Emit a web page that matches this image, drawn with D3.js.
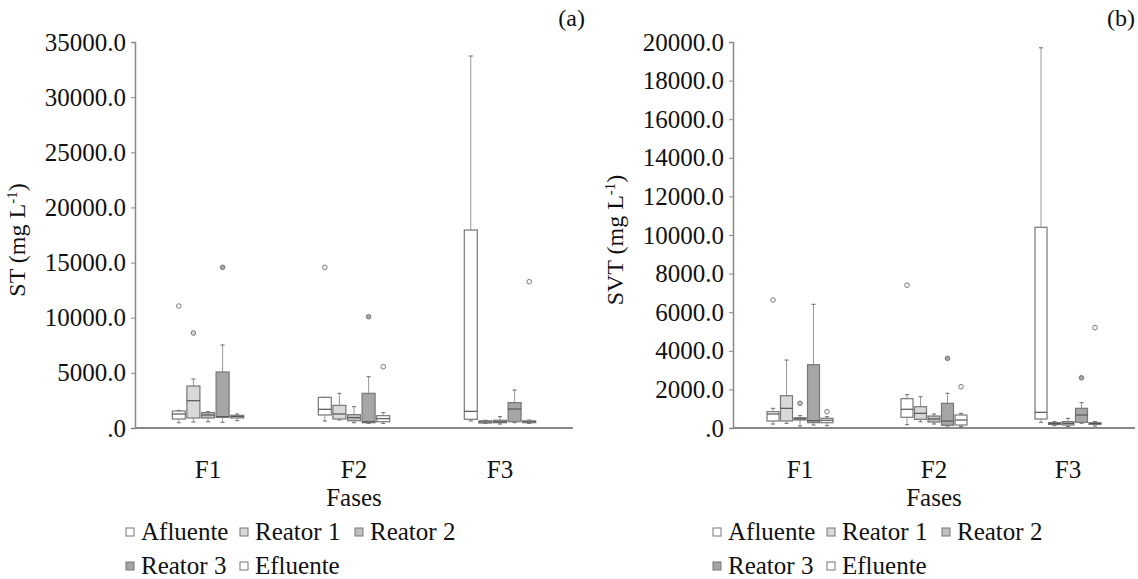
<!DOCTYPE html>
<html>
<head>
<meta charset="utf-8">
<script src="https://cdn.jsdelivr.net/npm/d3@7"></script>
<style>
  body { margin: 0; background: #fff; }
  svg text { font-family: "Times New Roman", "Liberation Serif", serif; fill: #111; }
</style>
</head>
<body>
<script>
// categories
var phases = ["F1", "F2", "F3"];
var series = ["Afluente", "Reator 1", "Reator 2", "Reator 3", "Efluente"];
var seriesFill = ["#ffffff", "#d9d9d9", "#c0c0c0", "#a6a6a6", "#ffffff"];

// ST (mg/L): per series, per phase [min, q1, median, q3, max]
var stAfluente = [[480, 816, 1270, 1541, 1600], [635, 1180, 1695, 2780, 2780], [635, 790, 1510, 17950, 33730]];
var stReator1  = [[544, 907, 2475, 3808, 4443], [725, 816, 1270, 2055, 3145], [400, 450, 550, 650, 700]];
var stReator2  = [[570, 907, 1180, 1390, 1480], [480, 660, 935, 1210, 1935], [360, 480, 560, 700, 1025]];
var stReator3  = [[517, 970, 1025, 5078, 7525], [425, 480, 570, 3145, 4650], [480, 570, 1720, 2300, 3445]];
var stEfluente = [[660, 907, 1040, 1150, 1270], [425, 570, 845, 1117, 1390], [420, 480, 560, 650, 720]];
var stOutliers = [
    ["F1", "Afluente", 11060], ["F1", "Reator 1", 8613], ["F1", "Reator 3", 14570],
    ["F2", "Afluente", 14570], ["F2", "Reator 3", 10090], ["F2", "Efluente", 5560],
    ["F3", "Efluente", 13265]
];
var stTicks = [0, 5000, 10000, 15000, 20000, 25000, 30000, 35000];

// SVT (mg/L)
var svtAfluente = [[207, 363, 725, 845, 1020], [171, 555, 970, 1520, 1725], [295, 466, 813, 10400, 19700]];
var svtReator1  = [[243, 363, 1020, 1673, 3523], [328, 450, 760, 1103, 1620], [120, 180, 230, 280, 330]];
var svtReator2  = [[104, 414, 482, 533, 637], [207, 311, 466, 620, 725], [70, 155, 240, 330, 500]];
var svtReator3  = [[155, 275, 378, 3280, 6410], [100, 140, 363, 1280, 1800], [243, 295, 673, 1020, 1310]];
var svtEfluente = [[120, 275, 400, 502, 585], [70, 155, 414, 673, 760], [100, 190, 230, 275, 330]];
var svtOutliers = [
    ["F1", "Afluente", 6630], ["F1", "Reator 2", 1280], ["F1", "Efluente", 845],
    ["F2", "Afluente", 7400], ["F2", "Reator 3", 3610], ["F2", "Efluente", 2140],
    ["F3", "Reator 3", 2600], ["F3", "Efluente", 5200]
];
var svtTicks = [0, 2000, 4000, 6000, 8000, 10000, 12000, 14000, 16000, 18000, 20000];

var FONT = "'Times New Roman', 'Liberation Serif', serif";

var svg = d3.select("body")
    .append("svg")
    .attr("width", 1138)
    .attr("height", 579);

function fmt(d){
    return d === 0 ? ".0" : d3.format(".1f")(d);
}

function drawPanel(p){
    var g = svg.append("g").attr("font-family", FONT);
    var y = d3.scaleLinear().domain([0, p.ymax]).range([428, 42]);
    var x = d3.scaleBand().domain(phases).range([p.x0, p.x1]);
    var inner = d3.scaleBand().domain(series).range([-p.step * 2.5, p.step * 2.5]);
    var bw = p.boxW;

    // y axis
    var ax = g.append("g")
        .attr("transform", "translate(" + p.x0 + ",0)")
        .call(d3.axisLeft(y).tickValues(p.ticks).tickFormat(fmt).tickSize(4).tickPadding(5));
    ax.attr("font-family", FONT);
    ax.select(".domain").attr("stroke", "#888").attr("stroke-width", 1.5);
    ax.selectAll(".tick line").attr("stroke", "#888");
    ax.selectAll(".tick text")
        .style("font-family", FONT)
        .style("font-size", "25px")
        .attr("fill", "#111");

    // x axis
    g.append("line")
        .attr("x1", p.x0).attr("x2", p.x1)
        .attr("y1", 428).attr("y2", 428)
        .attr("stroke", "#888").attr("stroke-width", 2);
    g.selectAll(".phase")
        .data(phases)
        .enter().append("text")
        .attr("x", function(d){ return x(d) + x.bandwidth() / 2; })
        .attr("y", 478)
        .attr("text-anchor", "middle")
        .style("font-size", "25px")
        .text(function(d){ return d; });

    g.append("text")
        .attr("x", p.x0 + (p.x1 - p.x0) / 2)
        .attr("y", 506)
        .attr("text-anchor", "middle")
        .style("font-size", "25px")
        .text("Fases");

    // y title
    var t = g.append("text")
        .attr("transform", "translate(" + (p.x0 - 110) + ",240) rotate(-90)")
        .attr("text-anchor", "middle")
        .style("font-size", "24px");
    t.append("tspan").text(p.title + " (mg L");
    t.append("tspan").attr("baseline-shift", "super").style("font-size", "15px").text("-1");
    t.append("tspan").text(")");

    g.append("text")
        .attr("x", p.tagX)
        .attr("y", 26)
        .attr("text-anchor", "end")
        .style("font-size", "24px")
        .text(p.tag);

    // boxes
    p.stats.forEach(function(rows, si){
        var s = series[si];
        rows.forEach(function(v, pi){
            var cx = x(phases[pi]) + x.bandwidth() / 2 + inner(s) + inner.bandwidth() / 2;
            var b = g.append("g");
            // whiskers
            b.append("line").attr("x1", cx).attr("x2", cx)
                .attr("y1", y(v[3])).attr("y2", y(v[4]))
                .attr("stroke", "#999");
            b.append("line").attr("x1", cx).attr("x2", cx)
                .attr("y1", y(v[0])).attr("y2", y(v[1]))
                .attr("stroke", "#999");
            [v[0], v[4]].forEach(function(w){
                b.append("line").attr("x1", cx - 2).attr("x2", cx + 2)
                    .attr("y1", y(w)).attr("y2", y(w))
                    .attr("stroke", "#666");
            });
            b.append("rect")
                .attr("x", cx - bw / 2)
                .attr("y", y(v[3]))
                .attr("width", bw)
                .attr("height", Math.max(1, y(v[1]) - y(v[3])))
                .attr("fill", seriesFill[si])
                .attr("stroke", "#777")
                .attr("stroke-width", 1.2);
            b.append("line")
                .attr("x1", cx - bw / 2).attr("x2", cx + bw / 2)
                .attr("y1", y(v[2])).attr("y2", y(v[2]))
                .attr("stroke", "#555").attr("stroke-width", 1.2);
        });
    });

    // outliers
    g.selectAll(".out")
        .data(p.outliers)
        .enter().append("circle")
        .attr("cx", function(d){
            return x(d[0]) + x.bandwidth() / 2 + inner(d[1]) + inner.bandwidth() / 2;
        })
        .attr("cy", function(d){ return y(d[2]); })
        .attr("r", 2.3)
        .attr("fill", function(d){ return seriesFill[series.indexOf(d[1])]; })
        .attr("stroke", "#777")
        .attr("stroke-width", 1);

    // legend
    var rows = [[0, 1, 2], [3, 4]];
    var cols = [0, 114, 229];
    rows.forEach(function(r, ri){
        r.forEach(function(si, ci){
            var lx = p.legX + cols[ci];
            var ly = 532 + ri * 34;
            g.append("rect")
                .attr("x", lx).attr("y", ly - 4)
                .attr("width", 8).attr("height", 8)
                .attr("fill", seriesFill[si])
                .attr("stroke", "#777");
            g.append("text")
                .attr("x", lx + 15).attr("y", ly + 8)
                .style("font-size", "25px")
                .text(series[si]);
        });
    });
}

drawPanel({
    x0: 135, x1: 573, ymax: 35000, ticks: stTicks, step: 14.6, boxW: 13,
    title: "ST", tag: "(a)", tagX: 585, legX: 126,
    stats: [stAfluente, stReator1, stReator2, stReator3, stEfluente],
    outliers: stOutliers
});

drawPanel({
    x0: 733, x1: 1135, ymax: 20000, ticks: svtTicks, step: 13.5, boxW: 12,
    title: "SVT", tag: "(b)", tagX: 1135, legX: 713,
    stats: [svtAfluente, svtReator1, svtReator2, svtReator3, svtEfluente],
    outliers: svtOutliers
});
</script>
</body>
</html>
